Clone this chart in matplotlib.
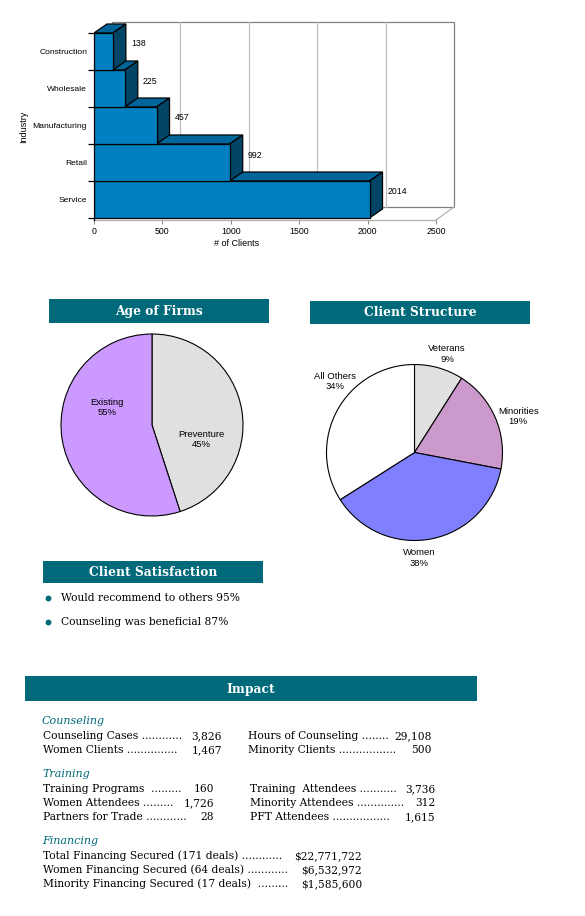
import matplotlib
matplotlib.use('Agg')
import numpy as np
import matplotlib.pyplot as plt
from matplotlib.patches import Polygon, Rectangle

W, H = 585, 916

# clients by industry
industries = ['Construction', 'Wholesale', 'Manufacturing', 'Retail', 'Service']
clients = [138, 225, 457, 992, 2014]
client_ticks = [0, 500, 1000, 1500, 2000, 2500]

# age of firms
age_labels = ['Preventure', 'Existing']
age_share = [45, 55]
age_colors = ['#e0e0e0', '#cc99ff']

# client structure
struct_labels = ['Veterans', 'Minorities', 'Women', 'All Others']
struct_share = [9, 19, 38, 34]
struct_colors = ['#e0e0e0', '#cc99cc', '#8080ff', '#ffffff']

satisfaction = ['Would recommend to others 95%', 'Counseling was beneficial 87%']

counsel_items = ['Counseling Cases', 'Women Clients', 'Hours of Counseling', 'Minority Clients']
counsel_values = ['3,826', '1,467', '29,108', '500']
training_items = ['Training Programs ', 'Women Attendees', 'Partners for Trade',
                  'Training  Attendees', 'Minority Attendees', 'PFT Attendees']
training_values = ['160', '1,726', '28', '3,736', '312', '1,615']
financing_items = ['Total Financing Secured (171 deals)', 'Women Financing Secured (64 deals)',
                   'Minority Financing Secured (17 deals) ']
financing_values = ['$22,771,722', '$6,532,972', '$1,585,600']

TEAL = '#00697a'
SERIF = 'DejaVu Serif'
SANS = 'Liberation Sans'


def fig_box(x0, y0, x1, y1):
    return [x0 / W, 1 - y1 / H, (x1 - x0) / W, (y1 - y0) / H]


fig = plt.figure(figsize=(W / 100, H / 100), dpi=100)

# background layer in pixel coordinates for headers and text blocks
bg = fig.add_axes([0, 0, 1, 1])
bg.set_xlim(0, W)
bg.set_ylim(H, 0)
bg.axis('off')


def header(x0, y0, x1, y1, title):
    bg.add_patch(Rectangle((x0, y0), x1 - x0, y1 - y0, fc=TEAL, ec='none'))
    bg.text((x0 + x1) / 2, (y0 + y1) / 2 + 0.5, title, color='white', fontsize=8.8,
            fontweight='bold', family=SERIF, ha='center', va='center')


# ---- 3D bar chart ----
ax = fig.add_axes(fig_box(94, 18, 460, 220))
ppv = 342 / 2500.0   # px per client
ppc = 37.0           # px per category
ax.set_xlim(0, 366 / ppv)
ax.set_ylim(-2 / ppc, 200 / ppc)
ax.patch.set_visible(False)
n = len(industries)
DX, DY = 18 / ppv, 11 / ppc
BDX, BDY = 13 / ppv, 9 / ppc
top = client_ticks[-1]

ax.add_patch(Rectangle((DX, DY), top, n, fc='white', ec='#808080', lw=0.9, zorder=1))
for t in client_ticks[1:-1]:
    ax.plot([t + DX, t + DX], [DY, n + DY], color='#c0c0c0', lw=0.9, zorder=1)
ax.plot([0, top], [-2 / ppc, -2 / ppc], color='#b0b0b0', lw=0.9, clip_on=False, zorder=1)
ax.plot([top, top + DX], [-2 / ppc, DY], color='#b0b0b0', lw=0.9, clip_on=False, zorder=1)

for k in range(n - 1, -1, -1):
    v = clients[k]
    i = n - 1 - k
    z = 2 + i
    ax.add_patch(Polygon([(0, i + 1), (v, i + 1), (v + BDX, i + 1 + BDY), (BDX, i + 1 + BDY)],
                         closed=True, fc='#006699', ec='black', lw=0.9, zorder=z))
    ax.add_patch(Polygon([(v, i), (v + BDX, i + BDY), (v + BDX, i + 1 + BDY), (v, i + 1)],
                         closed=True, fc='#004466', ec='black', lw=0.9, zorder=z))
    ax.add_patch(Rectangle((0, i), v, 1, fc='#0080c0', ec='black', lw=0.9, zorder=z))
    ax.text(v + BDX + 5 / ppv, i + 1 - 11 / ppc, str(v), fontsize=6.3, family=SANS,
            va='center', ha='left', zorder=10)

ax.set_yticks(np.arange(n) + 0.5)
ax.set_yticklabels(industries[::-1], fontsize=6.1, family=SANS)
ax.set_yticks(np.arange(n + 1), minor=True)
ax.tick_params(axis='y', which='major', length=0, pad=5)
ax.tick_params(axis='y', which='minor', length=4, width=0.9)
ax.set_xticks(client_ticks)
ax.set_xticklabels([str(t) for t in client_ticks], fontsize=6.3, family=SANS)
ax.tick_params(axis='x', length=3, width=0.8, color='#909090', pad=2)
for s in ['top', 'right', 'bottom']:
    ax.spines[s].set_visible(False)
ax.spines['left'].set_bounds(-2 / ppc, n)
ax.spines['left'].set_linewidth(0.9)
ax.text((237 - 94) / 366, -23 / 202, '# of Clients', transform=ax.transAxes, fontsize=6.5,
        family=SANS, ha='center', va='center')
ax.text((24 - 94) / 366, (220 - 127) / 202, 'Industry', transform=ax.transAxes, fontsize=6.5,
        family=SANS, ha='center', va='center', rotation=90)

# ---- Age of Firms ----
header(49, 299, 269, 323, 'Age of Firms')
r1 = 91 * 1.04
ax1 = fig.add_axes(fig_box(152 - r1, 425 - r1, 152 + r1, 425 + r1))
ax1.pie(age_share, colors=age_colors, startangle=90, counterclock=False,
        wedgeprops=dict(edgecolor='black', linewidth=0.8))
ax1.set_xlim(-1.04, 1.04)
ax1.set_ylim(-1.04, 1.04)
age_pos = [(0.54, -0.16), (-0.49, 0.19)]
for lab, sh, (x, y) in zip(age_labels, age_share, age_pos):
    ax1.text(x, y, f'{lab}\n{sh}%', ha='center', va='center', fontsize=6.8, family=SANS)

# ---- Client Structure ----
header(310, 301, 530, 324, 'Client Structure')
r2 = 88 * 1.3
ax2 = fig.add_axes(fig_box(414.5 - r2, 452.5 - r2, 414.5 + r2, 452.5 + r2))
ax2.pie(struct_share, colors=struct_colors, startangle=90, counterclock=False,
        wedgeprops=dict(edgecolor='black', linewidth=0.8))
ax2.set_xlim(-1.3, 1.3)
ax2.set_ylim(-1.3, 1.3)
struct_pos = [(0.37, 1.12), (1.18, 0.41), (0.05, -1.20), (-0.90, 0.81)]
for lab, sh, (x, y) in zip(struct_labels, struct_share, struct_pos):
    ax2.text(x, y, f'{lab}\n{sh}%', ha='center', va='center', fontsize=6.8, family=SANS)

# ---- Client Satisfaction ----
header(43, 561, 263, 583, 'Client Satisfaction')
for j, line in enumerate(satisfaction):
    y = 598 + 24 * j
    bg.plot([47.5], [y], 'o', ms=3.2, color=TEAL)
    bg.text(61, y, line, fontsize=7.7, family=SERIF, va='center', ha='left')

# ---- Impact ----
header(25, 676, 477, 701, 'Impact')


def section(title, ty):
    bg.text(42, ty, title, fontsize=8, family=SERIF, style='italic', color=TEAL,
            va='center', ha='left')


def row(x, y, label, ndots, value, xr):
    bg.text(x, y, label + ' ' + '.' * ndots, fontsize=7.7, family=SERIF, va='center', ha='left')
    bg.text(xr, y, value, fontsize=7.7, family=SERIF, va='center', ha='right')


section('Counseling', 721)
counsel_dots = [12, 15, 8, 17]
for j, (lab, val, nd) in enumerate(zip(counsel_items, counsel_values, counsel_dots)):
    col, r = divmod(j, 2)
    row([43, 248][col], 736 + 14 * r, lab, nd, val, [222, 432][col])

section('Training', 774)
training_dots = [9, 9, 12, 11, 14, 17]
for j, (lab, val, nd) in enumerate(zip(training_items, training_values, training_dots)):
    col, r = divmod(j, 3)
    row([43, 250][col], 789 + 14 * r, lab, nd, val, [214, 435][col])

section('Financing', 841)
financing_dots = [12, 12, 9]
for j, (lab, val, nd) in enumerate(zip(financing_items, financing_values, financing_dots)):
    row(43, 856 + 14 * j, lab, nd, val, 362)

fig.savefig('out.png', dpi=100)
